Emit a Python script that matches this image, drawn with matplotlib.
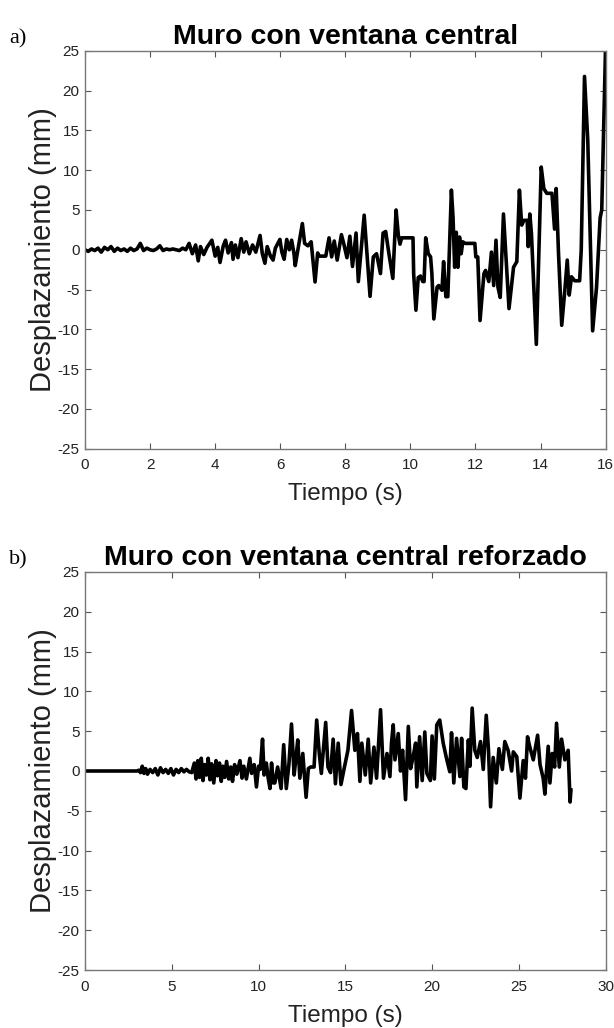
import matplotlib.pyplot as plt

plt.rcParams['font.family'] = ['Liberation Sans', 'DejaVu Sans']
plt.rcParams['axes.unicode_minus'] = False

# a) Muro con ventana central
t_a = [0.0, 0.1, 0.2, 0.3, 0.4, 0.5, 0.6, 0.7, 0.8, 0.9, 1.0, 1.1, 1.2, 1.3, 1.4, 1.5,
       1.6, 1.7, 1.8, 1.9, 2.0, 2.1, 2.2, 2.3, 2.4, 2.5, 2.6, 2.7, 2.8, 2.9, 3.0, 3.1,
       3.2, 3.3, 3.4, 3.48, 3.55, 3.65, 3.75, 3.9, 4.0, 4.08, 4.15, 4.25, 4.32, 4.4,
       4.5, 4.55, 4.62, 4.7, 4.8, 4.88, 4.95, 5.05, 5.15, 5.25, 5.38, 5.45, 5.53, 5.6,
       5.7, 5.78, 5.85, 5.99, 6.05, 6.12, 6.2, 6.28, 6.35, 6.42, 6.46, 6.55, 6.68, 6.75,
       6.85, 6.95, 7.07, 7.15, 7.2, 7.4, 7.5, 7.58, 7.66, 7.75, 7.88, 7.95, 8.05, 8.14,
       8.22, 8.33, 8.4, 8.58, 8.76, 8.86, 8.96, 9.08, 9.16, 9.24, 9.34, 9.46, 9.56, 9.63,
       9.68, 9.73, 10.08, 10.1, 10.17, 10.24, 10.31, 10.38, 10.42, 10.47, 10.55, 10.62,
       10.66, 10.72, 10.82, 10.87, 10.97, 11.02, 11.09, 11.15, 11.26, 11.31, 11.36, 11.41,
       11.46, 11.51, 11.56, 11.61, 11.68, 11.98, 12.01, 12.07, 12.14, 12.26, 12.31, 12.41,
       12.49, 12.56, 12.63, 12.69, 12.76, 12.86, 13.03, 13.17, 13.27, 13.35, 13.42, 13.49,
       13.59, 13.62, 13.67, 13.72, 13.87, 14.02, 14.1, 14.19, 14.35, 14.43, 14.48, 14.55,
       14.65, 14.75, 14.82, 14.88, 14.95, 15.05, 15.2, 15.25, 15.35, 15.45, 15.6, 15.72,
       15.83, 15.88, 16.0]
d_a = [0.0, -0.2, 0.1, -0.1, 0.2, -0.3, 0.3, 0.0, 0.4, -0.2, 0.2, -0.1, 0.1, -0.2, 0.2, -0.1,
       0.1, 0.8, -0.1, 0.2, 0.0, -0.1, 0.1, 0.5, -0.1, 0.1, 0.0, 0.1, 0.0, -0.1, 0.2, 0.0,
       0.8, -0.5, 0.6, -1.4, 0.4, -0.6, 0.3, 1.2, -0.8, 0.3, -1.6, 0.5, 1.2, -0.4,
       0.9, -1.2, 0.6, -1.0, 1.4, -0.3, 1.0, -0.5, 0.6, -0.3, 1.8, -0.5, -1.7, 0.4,
       -0.8, -1.3, 0.2, 1.3, -0.3, -1.2, 1.3, 0.0, 1.2, -0.4, -2.0, 0.2, 3.3, 0.8,
       0.5, 1.0, -4.05, -0.4, -0.8, -0.8, 1.5, -0.9, 1.1, -1.3, 1.9, 0.8, -1.0, 1.7,
       -2.1, 2.1, -4.0, 4.35, -5.86, -0.9, -0.5, -3.0, 2.1, 2.3, -0.5, -3.6, 5.0, 1.8,
       0.7, 1.5, 1.5, -3.0, -7.6, -3.5, -3.3, -4.0, -4.0, 1.5, -0.5, -0.9,
       -3.0, -8.7, -4.7, -4.5, -5.1, -1.5, -5.9, -5.9, 7.5, 4.1, -2.2, 2.2,
       -2.2, 1.6, -0.5, 1.0, 0.8, 0.8, -0.9, -0.9, -8.9, -3.0, -2.6, -4.0,
       -0.3, -4.5, 1.2, -4.7, -6.0, 4.5, -7.4, -2.2, -1.5, 7.5, 3.1, 3.7,
       3.7, 0.4, 4.5, 2.0, -11.9, 10.4, 7.7, 7.1, 7.1, 2.6, 7.7, -0.3,
       -9.5, -4.9, -1.3, -5.7, -3.4, -3.9, -3.9, 0.0, 21.8, 13.8, -10.2, -4.7,
       4.0, 5.0, 26.0]

# b) Muro con ventana central reforzado
t_b = [0.0, 3.0, 3.1, 3.2, 3.3, 3.4, 3.5, 3.6, 3.75, 3.9, 4.05, 4.2, 4.35, 4.5, 4.65, 4.8,
       4.95, 5.1, 5.25, 5.4, 5.55, 5.7, 5.85, 6.0, 6.15, 6.3, 6.4, 6.5, 6.6, 6.7, 6.8, 6.9,
       7.0, 7.1, 7.2, 7.3, 7.42, 7.55, 7.65, 7.75, 7.85, 7.95, 8.05, 8.16, 8.28, 8.4, 8.5,
       8.62, 8.75, 8.93, 9.05, 9.15, 9.3, 9.5, 9.6, 9.75, 9.88, 10.0, 10.1, 10.23, 10.32,
       10.45, 10.55, 10.66, 10.75, 10.85, 10.94, 11.1, 11.3, 11.45, 11.6, 11.75, 11.9,
       12.05, 12.15, 12.26, 12.38, 12.55, 12.74, 12.87, 13.0, 13.2, 13.35, 13.5, 13.62,
       13.87, 14.0, 14.15, 14.3, 14.43, 14.59, 14.75, 14.95, 15.15, 15.36, 15.55, 15.7,
       15.84, 15.95, 16.15, 16.32, 16.46, 16.65, 16.8, 17.03, 17.2, 17.4, 17.57, 17.66,
       17.76, 17.86, 18.05, 18.18, 18.3, 18.47, 18.63, 18.76, 18.9, 19.05, 19.12, 19.28,
       19.43, 19.58, 19.7, 19.9, 20.0, 20.13, 20.27, 20.44, 20.64, 20.83, 21.02, 21.12,
       21.25, 21.41, 21.6, 21.7, 21.83, 21.95, 22.09, 22.18, 22.31, 22.46, 22.6, 22.79,
       22.95, 23.12, 23.25, 23.37, 23.52, 23.7, 23.85, 24.05, 24.19, 24.38, 24.58, 24.68,
       24.88, 25.06, 25.25, 25.38, 25.5, 25.62, 25.83, 26.08, 26.22, 26.4, 26.5, 26.69,
       26.79, 26.92, 27.06, 27.17, 27.33, 27.46, 27.65, 27.84, 27.95, 28.0]
d_b = [0.0, 0.0, 0.1, -0.2, 0.6, -0.3, 0.3, -0.4, 0.2, -0.2, 0.3, -0.5, 0.4, -0.2, 0.2, -0.3,
       0.3, -0.5, 0.2, -0.2, 0.3, -0.1, 0.2, -0.1, -0.2, 1.0, -1.0, 1.3, -0.8, 1.6, -1.2, 0.8,
       -0.5, 1.6, -1.1, 0.9, -1.5, 1.3, -0.6, 1.0, -1.3, 0.6, -0.8, 1.2, -1.0, 0.5, -1.3,
       0.8, -0.4, 1.3, -0.9, 0.6, -1.0, 1.6, -0.3, 0.8, -2.0, 0.6, 0.2, 4.0, -0.5,
       1.0, -0.8, -2.2, 1.0, -1.5, -1.5, 0.5, -2.2, 3.3, -2.2, 0.8, 5.9,
       -0.5, 1.5, 3.9, -0.9, 2.2, -3.3, 0.3, 0.5, 0.5, 6.4, 2.2, -0.3,
       6.1, 0.5, -0.2, 4.0, -1.6, 3.5, -1.7, 0.5, 2.6, 7.6, 2.6, 4.7,
       -1.3, 3.5, -0.5, 4.0, -1.5, 3.0, -0.9, 7.7, -0.9, 2.2, -0.7, 3.5,
       5.8, 1.4, 4.7, 0.0, 2.6, -3.6, 5.6, 0.3, 1.7, 3.5, -2.0, 4.3,
       -1.2, 4.9, -0.3, -1.2, 4.4, -1.0, 5.8, 6.4, 3.5, 1.6, -0.1, 4.8,
       -1.5, 4.1, -0.7, 4.1, -2.0, -2.2, 3.9, 0.6, 7.9, 2.6, 1.7, 3.7,
       0.2, 7.0, 2.6, -4.5, 1.7, -1.5, 2.8, 0.2, 3.7, 2.6, 0.0, 2.4,
       1.8, -3.4, 1.3, -0.9, 4.3, 3.1, 1.4, 4.5, 0.8, -0.9, -2.9, 3.1,
       -1.5, 2.2, 0.5, 6.0, 0.5, 4.0, 1.4, 2.6, -3.9, -2.4]

y_ticks = [-25, -20, -15, -10, -5, 0, 5, 10, 15, 20, 25]

fig = plt.figure(figsize=(6.14, 10.28), dpi=100)
ax1 = fig.add_axes([0.1384, 0.5637, 0.848, 0.3867])
ax2 = fig.add_axes([0.1384, 0.0564, 0.848, 0.3872])

panels = [
    (ax1, t_a, d_a, 'Muro con ventana central', 'a)', list(range(0, 17, 2)), 16),
    (ax2, t_b, d_b, 'Muro con ventana central reforzado', 'b)', list(range(0, 31, 5)), 30),
]

for ax, t, d, title, tag, xt, xmax in panels:
    ax.plot(t, d, color='black', linewidth=2.6, solid_joinstyle='round')
    ax.set_xlim(0, xmax)
    ax.set_ylim(-25, 25)
    ax.set_xticks(xt)
    ax.set_yticks(y_ticks)
    ax.tick_params(direction='in', top=True, right=True, length=4, width=0.8,
                   color='#555555', labelsize=11, labelcolor='#222222')
    ax.tick_params(axis='x', pad=7)
    ax.tick_params(axis='y', pad=4)
    for s in ax.spines.values():
        s.set_color('#777777')
        s.set_linewidth(1.0)
    ax.set_xlabel('Tiempo (s)', fontsize=17.5, color='#222222', labelpad=8)
    ax.set_ylabel('Desplazamiento (mm)', fontsize=21, color='#222222', labelpad=0)
    ax.set_title(title, fontsize=20.5, fontweight='bold', pad=5)
    ax.text(-0.145, 1.018, tag, transform=ax.transAxes, fontsize=16,
            family=['Liberation Serif', 'DejaVu Serif'], va='baseline')

fig.savefig('out.png', dpi=100)
